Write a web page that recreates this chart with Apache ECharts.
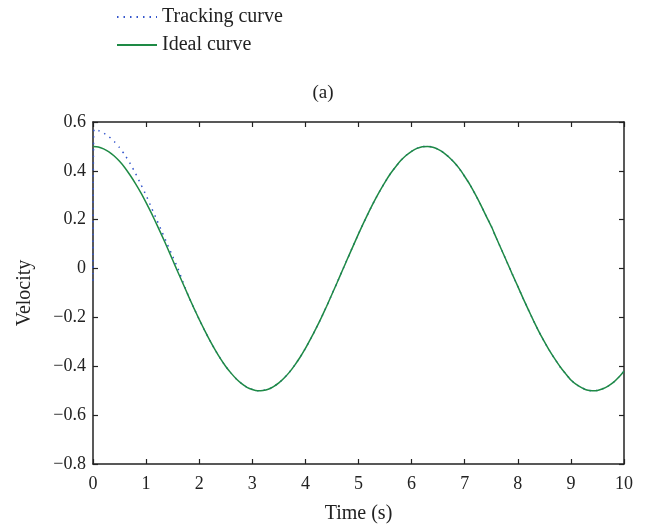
<!DOCTYPE html>
<html><head><meta charset="utf-8">
<script src="https://cdn.jsdelivr.net/npm/echarts@6/dist/echarts.min.js"></script>
<style>html,body{margin:0;padding:0;background:#fff}#c{width:651px;height:529px}</style>
</head><body><div id="c"></div>
<script>
const seriesNames = ['Tracking curve', 'Ideal curve'];
const xTicks = [0,1,2,3,4,5,6,7,8,9,10];
const yTicks = [-0.8,-0.6,-0.4,-0.2,0,0.2,0.4,0.6];
// Ideal curve, read every 0.1 s (t = 0 ... 10)
const idealV = [
 0.5,0.498,0.49,0.478,0.461,0.439,0.413,0.382,0.348,0.311,
 0.27,0.227,0.181,0.134,0.085,0.035,-0.015,-0.064,-0.114,-0.162,
 -0.208,-0.252,-0.294,-0.333,-0.369,-0.401,-0.428,-0.452,-0.471,-0.486,
 -0.495,-0.5,-0.499,-0.494,-0.483,-0.468,-0.448,-0.424,-0.395,-0.363,
 -0.327,-0.287,-0.245,-0.201,-0.154,-0.105,-0.056,-0.006,0.044,0.093,
 0.142,0.189,0.234,0.277,0.317,0.354,0.388,0.417,0.443,0.464,
 0.48,0.492,0.499,0.5,0.497,0.488,0.475,0.457,0.435,0.409,
 0.377,0.343,0.304,0.262,0.217,0.173,0.123,0.074,0.025,-0.025,
 -0.073,-0.122,-0.169,-0.215,-0.259,-0.299,-0.337,-0.371,-0.403,-0.43,
 -0.456,-0.474,-0.487,-0.497,-0.5,-0.499,-0.492,-0.481,-0.466,-0.445,
 -0.42];
const idealT = idealV.map((_,i)=>+(i*0.1).toFixed(1));
// Tracking curve (transient part), then it follows the ideal curve
const trackT = [0,0.02,0.1,0.2,0.3,0.4,0.5,0.6,0.7,0.8,0.9,1.0,1.1,1.2,1.3,1.4,1.5,1.6,1.7,1.8];
const trackV = [-0.05,0.57,0.565,0.555,0.54,0.52,0.495,0.465,0.43,0.39,0.345,0.3,0.25,0.2,0.15,0.1,0.05,0.0,-0.058,-0.114];

const trackData = trackT.map((t,i)=>[t,trackV[i]]);
idealT.forEach((t,i)=>{ if (t > 1.8) trackData.push([t, idealV[i]]); });
const idealData = idealT.map((t,i)=>[t,idealV[i]]);

const font = 'Liberation Serif';
const txt = '#222';
const chart = echarts.init(document.getElementById('c'), null, {renderer:'canvas'});
const axLine = {show:true, onZero:false, lineStyle:{color:'#222', width:1.5}};
const tick = {inside:true, length:5, lineStyle:{color:'#222', width:1.2}};
chart.setOption({
  animation:false,
  textStyle:{fontFamily:font},
  title:{text:'(a)', left:318, top:79, textAlign:'center', textStyle:{fontFamily:font, fontSize:19, fontWeight:'normal', color:txt}},
  legend:{
    orient:'vertical', left:111, top:2, itemWidth:40, itemHeight:12, itemGap:8,
    textStyle:{fontFamily:font, fontSize:20, color:txt},
    itemStyle:{opacity:0},
    data:seriesNames
  },
  grid:{left:93, right:27, top:122, bottom:62, containLabel:false},
  xAxis:[
    {type:'value', min:0, max:10, interval:1, position:'bottom',
     name:'Time (s)', nameLocation:'middle', nameGap:40,
     nameTextStyle:{fontFamily:font, fontSize:20, color:txt},
     axisLine:axLine, axisTick:tick,
     axisLabel:{fontFamily:font, fontSize:18, color:txt, margin:11},
     splitLine:{show:false}},
    {type:'value', min:0, max:10, interval:1, position:'top',
     axisLine:axLine, axisTick:tick,
     axisLabel:{show:false}, splitLine:{show:false}}
  ],
  yAxis:[
    {type:'value', min:-0.8, max:0.6, interval:0.2, position:'left',
     name:'Velocity', nameLocation:'middle', nameGap:58, nameRotate:90,
     nameTextStyle:{fontFamily:font, fontSize:20, color:txt},
     axisLine:axLine, axisTick:tick,
     axisLabel:{fontFamily:font, fontSize:18, color:txt, margin:7,
       formatter:v=>{const r=Math.round(v*10)/10; return r===0?'0':(r<0?'\u2212'+Math.abs(r).toFixed(1):r.toFixed(1));}},
     splitLine:{show:false}},
    {type:'value', min:-0.8, max:0.6, interval:0.2, position:'right',
     axisLine:axLine, axisTick:tick,
     axisLabel:{show:false}, splitLine:{show:false}}
  ],
  series:[
    {name:seriesNames[0], type:'line', data:trackData, showSymbol:false, symbol:'none',
     smooth:0.2, color:'#3355cc',
     lineStyle:{color:'#3355cc', width:1.5, type:[1.5,5]}, z:2},
    {name:seriesNames[1], type:'line', data:idealData, showSymbol:false, symbol:'none',
     smooth:0.2, color:'#1e8a45',
     lineStyle:{color:'#1e8a45', width:1.5}, z:3}
  ]
});
</script></body></html>
